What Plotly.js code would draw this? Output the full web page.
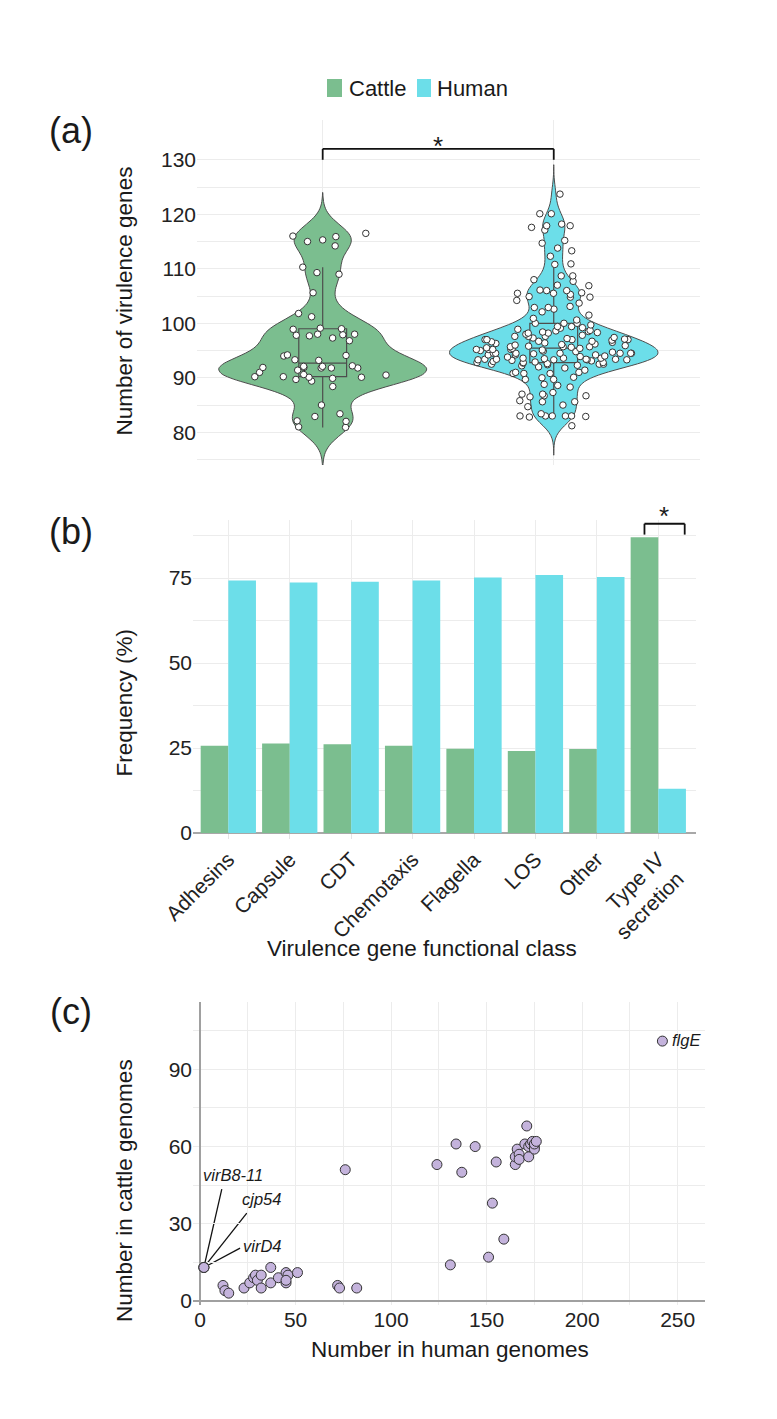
<!DOCTYPE html>
<html>
<head>
<meta charset="utf-8">
<script src="https://cdn.plot.ly/plotly-3.0.1.min.js"></script>
<style>
  html, body { margin: 0; padding: 0; background: #ffffff; }
  #chart { width: 777px; height: 1419px; }
</style>
</head>
<body>
<div id="chart"></div>
<script>
// ---------- (a) number of virulence genes per genome ----------
const cattleGenes = [
  115.3, 114.2, 110.3, 116.5, 115.0, 116.0, 115.9, 109.3, 109.0, 105.6,
  101.8, 101.2, 97.9, 99.0, 99.1, 98.9, 98.0, 97.7, 97.3, 97.8,
  98.0, 96.8, 94.2, 94.0, 93.3, 94.1, 93.2, 91.8, 91.9, 92.2,
  91.8, 92.1, 91.4, 91.0, 91.8, 91.9, 92.1, 90.5, 89.7, 90.1,
  89.9, 90.2, 90.1, 90.6, 90.2, 89.4, 88.4, 85.0, 83.4, 82.9,
  82.0, 82.1, 81.0, 80.9
];
const humanGenes = [
  123.7, 120.1, 120.1, 117.9, 118.2, 117.6, 117.9, 117.1, 115.2, 114.7,
  113.8, 113.3, 112.3, 110.8, 110.9, 108.0, 107.7, 108.7, 108.7, 106.9,
  107.0, 106.1, 106.0, 106.0, 105.3, 105.6, 105.5, 105.5, 104.8, 104.8,
  104.9, 104.2, 103.7, 102.9, 103.1, 102.6, 102.9, 101.5, 102.1, 100.6,
  100.0, 100.9, 100.0, 99.7, 100.0, 99.4, 98.9, 99.4, 99.1, 98.7,
  98.3, 98.2, 97.1, 97.6, 97.0, 98.2, 98.5, 98.6, 97.6, 97.0,
  97.3, 97.6, 97.2, 97.0, 97.0, 96.7, 96.3, 96.5, 96.7, 95.7,
  95.8, 95.2, 95.6, 95.4, 95.2, 95.4, 95.0, 95.7, 95.2, 96.1,
  95.7, 95.2, 94.5, 94.2, 94.4, 94.5, 94.5, 94.2, 94.5, 94.5,
  94.2, 94.5, 94.5, 93.6, 93.3, 93.6, 93.4, 93.3, 93.4, 93.3,
  93.2, 93.4, 93.3, 93.6, 93.4, 92.8, 92.7, 92.4, 92.8, 92.5,
  92.5, 92.3, 92.5, 92.9, 92.8, 93.0, 91.4, 92.0, 91.0, 91.0,
  90.8, 90.8, 90.1, 90.8, 90.0, 89.7, 89.7, 88.8, 88.6, 88.3,
  87.3, 87.0, 86.7, 86.5, 87.0, 86.7, 85.8, 85.6, 85.0, 85.6,
  84.7, 83.4, 82.8, 83.0, 83.0, 83.0, 83.0, 83.0, 82.9, 81.2,
  98.0, 97.4, 96.9, 96.4, 96.0, 95.5, 95.1, 94.8, 94.0, 93.8,
  93.5, 93.1, 92.6, 92.2, 91.8, 96.6, 97.8, 94.7, 93.9, 95.9,
  99.2, 98.4, 96.2, 94.9
];
const genesTicks = [80, 90, 100, 110, 120, 130];
const genesMinorTicks = [75, 85, 95, 105, 115, 125];

// ---------- (b) frequency of each functional class by host ----------
const hosts = ['Cattle', 'Human'];
const geneClasses = ['Adhesins', 'Capsule', 'CDT', 'Chemotaxis', 'Flagella', 'LOS', 'Other', 'Type IV<br>secretion'];
const cattleFreq = [25.7, 26.3, 26.1, 25.7, 24.8, 24.1, 24.7, 87.0];
const humanFreq  = [74.3, 73.7, 73.9, 74.3, 75.2, 75.9, 75.3, 13.0];

// ---------- (c) per-gene counts in human vs cattle genomes ----------
const humanCounts = [
  2, 2, 2, 12, 13, 15, 23, 26, 28, 29, 30, 32, 32, 37, 37, 41, 45, 46, 45, 45, 51,
  72, 73, 82, 76,
  124, 131, 134, 137, 144, 151, 153, 155, 159,
  165, 165, 166, 167, 167, 170, 171, 172, 172, 173, 174, 175, 175, 175, 176,
  242
];
const cattleCounts = [
  13, 13, 13, 6, 4, 3, 5, 7, 9, 10, 8, 10, 5, 13, 7, 9, 11, 10, 7, 8, 11,
  6, 5, 5, 51,
  53, 14, 61, 50, 60, 17, 38, 54, 24,
  53, 56, 59, 57, 55, 61, 68, 56, 60, 61, 62, 60, 59, 61, 62,
  101
];
const calloutGenes  = ['virB8-11', 'cjp54', 'virD4', 'flgE'];
const calloutHuman  = [2, 2, 2, 242];
const calloutCattle = [13, 13, 13, 101];

// ---------- styling ----------
const W = 777, H = 1419;
const GREEN = '#7BBE8F';
const CYAN = '#6CDEE9';
const hostColors = [GREEN, CYAN];
const LAVENDER = '#C4B3DC';
const GRID = '#ececec';
const FONT = 'Arial, "Liberation Sans", sans-serif';
const INK = '#1a1a1a';

const xd = (a, b) => [a / W, b / W];
const yd = (top, bottom) => [1 - bottom / H, 1 - top / H];
const fx = v => v / W;
const fy = v => 1 - v / H;

const tickFont = { family: FONT, size: 21, color: '#222' };

// soft span for the density outlines: 3 bandwidths past the data
const bwCattle = 2.5, bwHuman = 1.8;
const spanOf = (arr, bw) => [Math.min(...arr) - 3 * bw, Math.max(...arr) + 3 * bw];

const violinCommon = {
  type: 'violin', xaxis: 'x', yaxis: 'y', showlegend: false,
  width: 0.9, scalemode: 'width', spanmode: 'manual',
  points: 'all', jitter: 0.75, pointpos: 0,
  marker: { color: '#ffffff', size: 6.5, line: { color: '#333333', width: 1 } },
  line: { color: '#4d4d4d', width: 1 },
  box: { visible: true, width: 0.23, fillcolor: 'rgba(0,0,0,0)', line: { color: '#4d4d4d', width: 1.2 } },
  meanline: { visible: false },
  hoverinfo: 'y'
};

const traces = [
  Object.assign({}, violinCommon, {
    name: hosts[0], x0: 0, y: cattleGenes, fillcolor: GREEN,
    bandwidth: bwCattle, span: spanOf(cattleGenes, bwCattle)
  }),
  Object.assign({}, violinCommon, {
    name: hosts[1], x0: 1, y: humanGenes, fillcolor: CYAN,
    bandwidth: bwHuman, span: spanOf(humanGenes, bwHuman)
  }),
  {
    type: 'bar', name: hosts[0], x: geneClasses, y: cattleFreq,
    xaxis: 'x2', yaxis: 'y2', marker: { color: GREEN }, showlegend: false
  },
  {
    type: 'bar', name: hosts[1], x: geneClasses, y: humanFreq,
    xaxis: 'x2', yaxis: 'y2', marker: { color: CYAN }, showlegend: false
  },
  {
    type: 'scatter', mode: 'markers', x: humanCounts, y: cattleCounts,
    xaxis: 'x3', yaxis: 'y3', showlegend: false,
    marker: { color: LAVENDER, size: 10, line: { color: '#333333', width: 1 } }
  }
];

// significance brackets
const bracket = (xref, yref, x0, x1, yLow, yHigh) => {
  const ln = { color: '#111111', width: 1.8 };
  return [
    { type: 'line', xref, yref, x0: x0, x1: x0, y0: yLow, y1: yHigh, line: ln },
    { type: 'line', xref, yref, x0: x0, x1: x1, y0: yHigh, y1: yHigh, line: ln },
    { type: 'line', xref, yref, x0: x1, x1: x1, y0: yHigh, y1: yLow, line: ln }
  ];
};

// leader lines from the shared point to the gene names (pixel offsets)
const leaderOffsets = [[17.9, 78.3], [42.9, 54.3], [36.2, 19.3]];
const leaders = leaderOffsets.map((d, i) => ({
  type: 'line', xref: 'x3', yref: 'y3', layer: 'below',
  xsizemode: 'pixel', ysizemode: 'pixel',
  xanchor: calloutHuman[i], yanchor: calloutCattle[i],
  x0: 0, y0: 0, x1: d[0], y1: d[1],
  line: { color: '#111111', width: 1.3 }
}));

const calloutShift = [[-3, 92.6], [36, 68.6], [37, 21.6], [8, 1]];
const callouts = calloutGenes.map((g, i) => ({
  xref: 'x3', yref: 'y3', x: calloutHuman[i], y: calloutCattle[i],
  text: '<i>' + g + '</i>', showarrow: false,
  xanchor: 'left', yanchor: 'middle',
  xshift: calloutShift[i][0], yshift: calloutShift[i][1],
  font: { family: FONT, size: 16.5, color: INK }
}));

const paperText = (text, x, y, size, angle, anchor) => ({
  xref: 'paper', yref: 'paper', x: fx(x), y: fy(y), text,
  showarrow: false, xanchor: anchor || 'center', yanchor: 'middle',
  textangle: angle || 0, font: { family: FONT, size, color: INK }
});

// host key above panel (a)
const keySwatches = [[327, 342], [417, 431]];
const keyLabelX = [347, 435];
const keyShapes = hosts.map((h, i) => ({
  type: 'rect', xref: 'paper', yref: 'paper',
  x0: fx(keySwatches[i][0]), x1: fx(keySwatches[i][1]), y0: fy(97), y1: fy(79),
  fillcolor: hostColors[i], line: { width: 0 }
}));
const keyLabels = hosts.map((h, i) => paperText(h, keyLabelX[i], 88, 22, 0, 'left'));

const annotations = [
  paperText('(a)', 71, 131, 36),
  paperText('(b)', 71, 531, 36),
  paperText('(c)', 71, 1011, 36),
  paperText('Number of virulence genes', 123.5, 301, 22.5, -90),
  paperText('Frequency (%)', 123.5, 703, 22.5, -90),
  paperText('Virulence gene functional class', 422, 948, 22.5),
  paperText('Number in cattle genomes', 124, 1191, 22.5, -90),
  paperText('Number in human genomes', 450, 1349, 22.5),
  { xref: 'x', yref: 'paper', x: 0.5, y: fy(146), text: '*', showarrow: false,
    xanchor: 'center', yanchor: 'middle', font: { family: FONT, size: 26, color: INK } },
  { xref: 'x2', yref: 'paper', x: 7.1, y: fy(516), text: '*', showarrow: false,
    xanchor: 'center', yanchor: 'middle', font: { family: FONT, size: 26, color: INK } }
].concat(callouts, keyLabels);

const shapes = []
  .concat(bracket('x', 'y', 0, 1, 130, 132))
  .concat(bracket('x2', 'y2', 6.775, 7.43, 87.8, 91.0))
  .concat(leaders, keyShapes);

const layout = {
  width: W, height: H,
  margin: { l: 0, r: 0, t: 0, b: 0, pad: 0 },
  paper_bgcolor: '#ffffff', plot_bgcolor: '#ffffff',
  font: { family: FONT, color: INK },
  showlegend: false,
  violinmode: 'overlay',
  barmode: 'group', bargap: 0.1, bargroupgap: 0,
  // (a)
  xaxis: {
    domain: xd(197, 700), anchor: 'y', range: [-0.544, 1.633],
    tickvals: [0, 1], showticklabels: false, ticks: '',
    showgrid: true, gridcolor: GRID, zeroline: false, showline: false
  },
  yaxis: {
    domain: yd(120, 465), anchor: 'x', range: [74.0, 137.3],
    tickmode: 'array', tickvals: genesTicks, ticks: '',
    showgrid: true, gridcolor: GRID, zeroline: false, showline: false,
    minor: { tickmode: 'array', tickvals: genesMinorTicks, showgrid: true, gridcolor: GRID, ticks: '' },
    tickfont: tickFont
  },
  // (b)
  xaxis2: {
    domain: xd(193, 696), anchor: 'y2', range: [-0.575, 7.614],
    type: 'category', tickangle: -45, tickfont: tickFont,
    ticks: 'outside', ticklen: 5, tickcolor: '#e4e4e4',
    showgrid: true, gridcolor: GRID, zeroline: false, showline: false
  },
  yaxis2: {
    domain: yd(520, 833), anchor: 'x2', range: [0, 92.1],
    dtick: 25, tick0: 0, ticks: '', tickfont: tickFont,
    showgrid: true, gridcolor: GRID,
    minor: { dtick: 12.5, tick0: 0, showgrid: true, gridcolor: GRID, ticks: '' },
    zeroline: true, zerolinecolor: '#a8a8a8', zerolinewidth: 2, showline: false
  },
  // (c)
  xaxis3: {
    domain: xd(193, 705), anchor: 'y3', range: [-3.7, 264.3],
    dtick: 50, tick0: 0, tickfont: tickFont, ticks: '',
    showgrid: true, gridcolor: GRID,
    minor: { dtick: 25, tick0: 0, showgrid: true, gridcolor: GRID, ticks: '' },
    zeroline: true, zerolinecolor: '#a0a0a0', zerolinewidth: 2, showline: false
  },
  yaxis3: {
    domain: yd(1002, 1305), anchor: 'x3', range: [-1.6, 116.2],
    dtick: 30, tick0: 0, ticks: '', tickfont: tickFont,
    showgrid: true, gridcolor: GRID,
    minor: { dtick: 15, tick0: 0, showgrid: true, gridcolor: GRID, ticks: '' },
    zeroline: true, zerolinecolor: '#a0a0a0', zerolinewidth: 2, showline: false
  },
  shapes,
  annotations
};

Plotly.newPlot('chart', traces, layout, { displayModeBar: false, staticPlot: true });
</script>
</body>
</html>
